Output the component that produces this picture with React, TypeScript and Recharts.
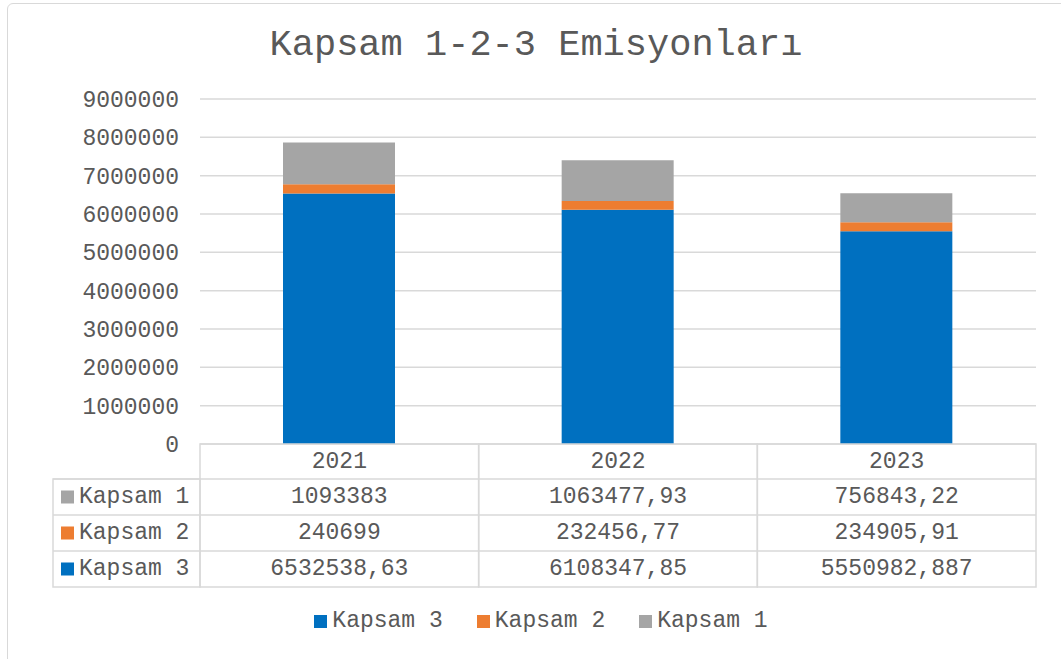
import React from "react";
import { BarChart, Bar, XAxis, YAxis, CartesianGrid, Legend } from "recharts";

const years = ["2021", "2022", "2023"];
const kapsam1 = [1093383, 1063477.93, 756843.22];
const kapsam2 = [240699, 232456.77, 234905.91];
const kapsam3 = [6532538.63, 6108347.85, 5550982.887];
const yTicks = [0, 1000000, 2000000, 3000000, 4000000, 5000000, 6000000, 7000000, 8000000, 9000000];
const legendOrder = ["Kapsam 3", "Kapsam 2", "Kapsam 1"];

const FONT = "'Liberation Mono', 'Courier New', monospace";
const TEXT = "#595959";
const LINE = "#D9D9D9";

const W = 1061;
const H = 659;
const PLOT_LEFT = 200;
const PLOT_RIGHT = 1036;
const COL_W = (PLOT_RIGHT - PLOT_LEFT) / years.length;

// rows of the data table, top to bottom
const tableRows = [
  { name: "Kapsam 1", color: "#A5A5A5", values: kapsam1 },
  { name: "Kapsam 2", color: "#ED7D31", values: kapsam2 },
  { name: "Kapsam 3", color: "#0070C0", values: kapsam3 },
];

const data = years.map((year, i) => ({
  year,
  kapsam1: kapsam1[i],
  kapsam2: kapsam2[i],
  kapsam3: kapsam3[i],
}));

const fmt = (v: number) => String(v).replace(".", ",");

function TableTick(props: any) {
  const { x, y, payload } = props;
  const i = payload.index;
  const left = x - COL_W / 2;
  const rowTop = [y, y + 35, y + 71, y + 107, y + 143];
  const textProps = {
    fontFamily: FONT,
    fontSize: 23,
    fill: TEXT,
    dominantBaseline: "central" as const,
  };
  return (
    <g>
      <rect x={left} y={rowTop[0]} width={COL_W} height={rowTop[4] - rowTop[0]} fill="none" stroke={LINE} strokeWidth={1.5} />
      {rowTop.slice(1, 4).map((ry, k) => (
        <line key={k} x1={left} x2={left + COL_W} y1={ry} y2={ry} stroke={LINE} strokeWidth={1.5} />
      ))}
      <text x={x} y={(rowTop[0] + rowTop[1]) / 2} textAnchor="middle" {...textProps}>
        {payload.value}
      </text>
      {tableRows.map((r, k) => (
        <text key={r.name} x={x} y={(rowTop[k + 1] + rowTop[k + 2]) / 2} textAnchor="middle" {...textProps}>
          {fmt(r.values[i])}
        </text>
      ))}
      {i === 0 && (
        <g>
          <rect x={53} y={rowTop[1]} width={left - 53} height={rowTop[4] - rowTop[1]} fill="none" stroke={LINE} strokeWidth={1.5} />
          {tableRows.map((r, k) => {
            const cy = (rowTop[k + 1] + rowTop[k + 2]) / 2;
            return (
              <g key={r.name}>
                <line x1={53} x2={left} y1={rowTop[k + 1]} y2={rowTop[k + 1]} stroke={LINE} strokeWidth={1.5} />
                <rect x={61} y={cy - 6.5} width={13} height={13} fill={r.color} />
                <text x={79} y={cy} textAnchor="start" {...textProps}>
                  {r.name}
                </text>
              </g>
            );
          })}
        </g>
      )}
    </g>
  );
}

function LegendContent(props: any) {
  const items = [...(props.payload || [])].sort(
    (a: any, b: any) => legendOrder.indexOf(a.value) - legendOrder.indexOf(b.value)
  );
  return (
    <div style={{ display: "flex", justifyContent: "center", paddingLeft: 21, fontFamily: FONT, fontSize: 23, color: TEXT, lineHeight: "28px" }}>
      {items.map((it: any, k: number) => (
        <span key={it.value} style={{ display: "inline-flex", alignItems: "center", marginRight: k < items.length - 1 ? 34 : 0 }}>
          <span style={{ display: "inline-block", width: 13, height: 13, background: it.color, marginRight: 5 }} />
          {it.value}
        </span>
      ))}
    </div>
  );
}

export default function App() {
  return (
    <div style={{ position: "absolute", left: 0, top: 0, width: W, height: H, overflow: "hidden", background: "#fff" }}>
      <div style={{ position: "absolute", left: 7, top: 3, width: 1080, height: 700, border: `1.5px solid ${LINE}`, borderRadius: 6, boxSizing: "border-box" }} />
      <div style={{ position: "absolute", left: 0, top: 22, width: 1072, textAlign: "center", fontFamily: FONT, fontSize: 37, lineHeight: "46px", color: TEXT }}>
        Kapsam 1-2-3 Emisyonları
      </div>
      <div style={{ position: "absolute", left: 0, top: 0 }}>
        <BarChart width={W} height={H} data={data} margin={{ top: 99, right: W - PLOT_RIGHT, left: 0, bottom: 65 }}>
          <CartesianGrid vertical={false} stroke={LINE} strokeWidth={1.5} />
          <XAxis dataKey="year" height={150} tickSize={0} tickMargin={0} axisLine={false} tickLine={false} tick={<TableTick />} interval={0} />
          <YAxis
            width={PLOT_LEFT}
            domain={[0, 9000000]}
            ticks={yTicks}
            tickFormatter={(v: number) => String(v)}
            tickSize={0}
            tickMargin={21}
            axisLine={false}
            tickLine={false}
            tick={{ fontFamily: FONT, fontSize: 23, fill: TEXT }}
          />
          <Legend verticalAlign="middle" align="center" wrapperStyle={{ top: 607, left: 0, width: W }} content={<LegendContent />} />
          <Bar dataKey="kapsam3" name="Kapsam 3" stackId="a" fill="#0070C0" barSize={112} isAnimationActive={false} />
          <Bar dataKey="kapsam2" name="Kapsam 2" stackId="a" fill="#ED7D31" barSize={112} isAnimationActive={false} />
          <Bar dataKey="kapsam1" name="Kapsam 1" stackId="a" fill="#A5A5A5" barSize={112} isAnimationActive={false} />
        </BarChart>
      </div>
    </div>
  );
}
